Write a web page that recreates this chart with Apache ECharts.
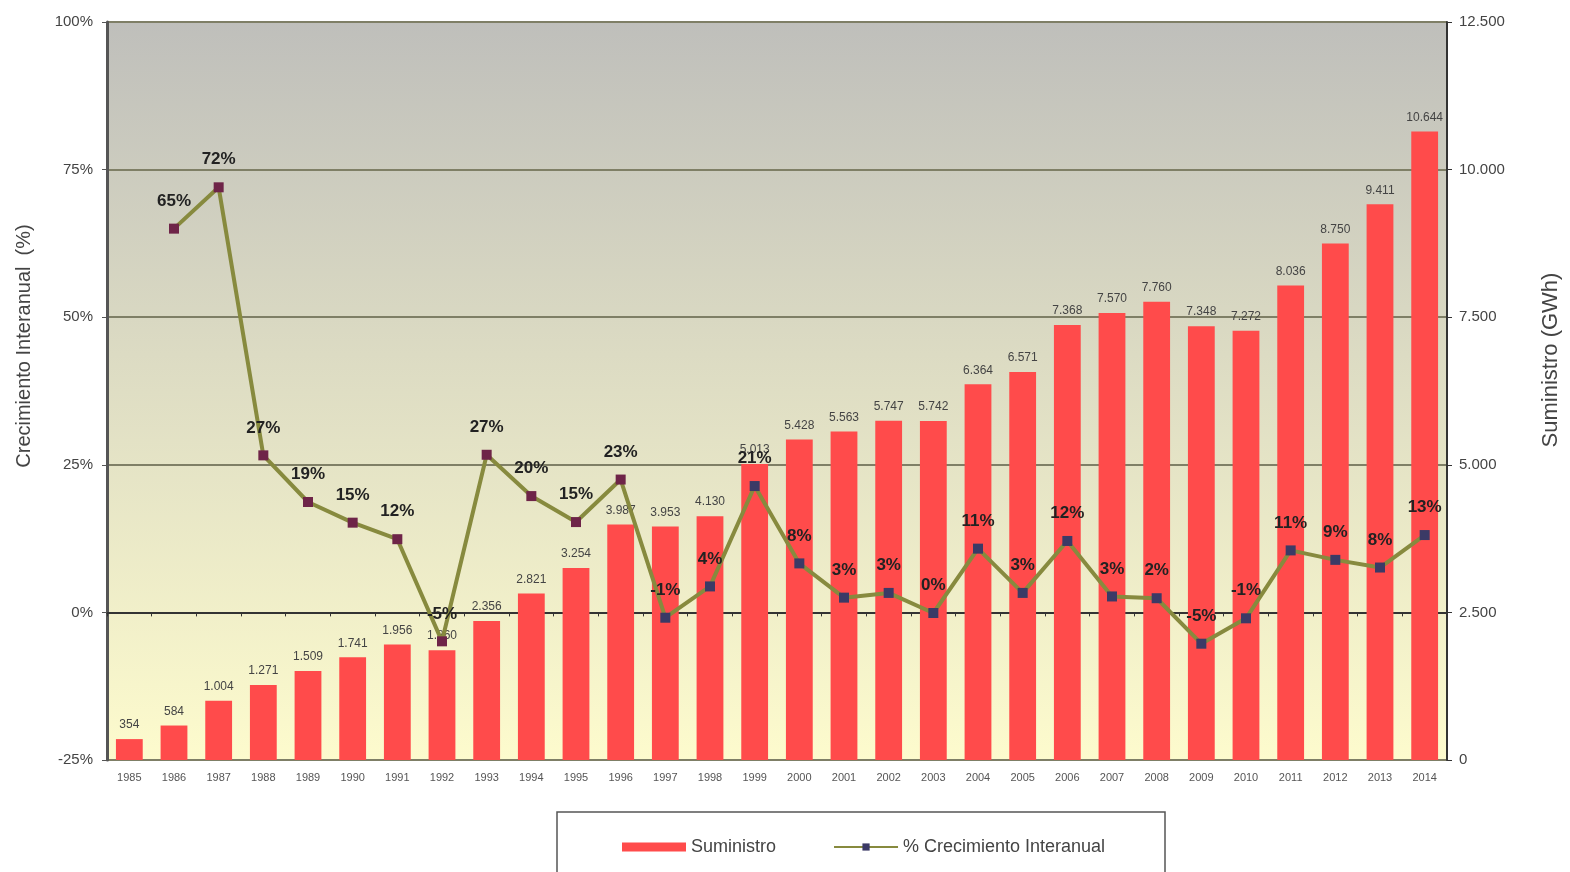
<!DOCTYPE html>
<html>
<head>
<meta charset="utf-8">
<script src="https://cdn.jsdelivr.net/npm/echarts@6/dist/echarts.min.js"></script>
<style>html,body{margin:0;padding:0;background:#fff}#c{width:1570px;height:872px}</style>
</head>
<body>
<div id="c"></div>
<script>
var years = ['1985','1986','1987','1988','1989','1990','1991','1992','1993','1994','1995','1996','1997','1998','1999','2000','2001','2002','2003','2004','2005','2006','2007','2008','2009','2010','2011','2012','2013','2014'];
var suministro = [354,584,1004,1271,1509,1741,1956,1860,2356,2821,3254,3987,3953,4130,5013,5428,5563,5747,5742,6364,6571,7368,7570,7760,7348,7272,8036,8750,9411,10644];
var crecimiento = [null,65,72,26.6,18.7,15.2,12.4,-4.9,26.7,19.7,15.3,22.5,-0.9,4.4,21.4,8.3,2.5,3.3,-0.1,10.8,3.3,12.1,2.7,2.4,-5.3,-1.0,10.5,8.9,7.6,13.1];
var leftTicks = [-25,0,25,50,75,100];
var rightTicks = [0,2500,5000,7500,10000,12500];

function fmtThousands(v){
  var s = String(Math.round(v));
  return s.replace(/\B(?=(\d{3})+(?!\d))/g, '.');
}
var maroonUntil = 1996;
var lineData = crecimiento.map(function(v,i){
  return {value: v, itemStyle: {color: (+years[i] <= maroonUntil) ? '#6e2448' : '#3b3a66'}};
});

var chart = echarts.init(document.getElementById('c'));
var font = 'Liberation Sans, Arial, sans-serif';
chart.setOption({
  animation: false,
  backgroundColor: '#ffffff',
  grid: {left: 107, right: 123, top: 22, bottom: 112,
    show: true, borderWidth: 0,
    backgroundColor: new echarts.graphic.LinearGradient(0,0,0,1,[
      {offset:0, color:'#bfbfbb'},
      {offset:0.45, color:'#dcdbc3'},
      {offset:1, color:'#fdfbcd'}
    ])},
  legend: {
    top: 833, left: 617, itemGap: 57,
    itemWidth: 64, itemHeight: 9,
    textStyle: {fontFamily: font, fontSize: 18, color: '#444'},
    data: [
      {name: 'Suministro', icon: 'rect'},
      {name: '% Crecimiento Interanual'}
    ]
  },
  graphic: [
    {type:'rect', shape:{x:557, y:812, width:608, height:80}, style:{fill:'none', stroke:'#555', lineWidth:1.5}, z: -1},
    {type:'text', x:24, y:346, rotation: Math.PI/2,
      style:{text:'Crecimiento Interanual  (%)', font:'20px Liberation Sans, Arial, sans-serif', fill:'#444', textAlign:'center', textVerticalAlign:'middle'}},
    {type:'text', x:1551, y:360, rotation: Math.PI/2,
      style:{text:'Suministro (GWh)', font:'22px Liberation Sans, Arial, sans-serif', fill:'#444', textAlign:'center', textVerticalAlign:'middle'}}
  ],
  xAxis: {
    type: 'category', data: years, boundaryGap: true,
    axisLine: {lineStyle: {color: '#333', width: 2}},
    axisTick: {show: true, length: 4, lineStyle: {color: '#333'}},
    axisLabel: {fontFamily: font, fontSize: 11, color: '#555', margin: 12, interval: 0}
  },
  yAxis: [
    {type: 'value', min: leftTicks[0], max: leftTicks[leftTicks.length-1], interval: 25, position: 'left',
      axisLine: {show: true, lineStyle: {color: '#555', width: 3}},
      axisTick: {show: true, length: 5, lineStyle: {color: '#555'}},
      axisLabel: {formatter: '{value}%', fontFamily: font, fontSize: 15, color: '#444', margin: 14},
      splitLine: {show: true, lineStyle: {color: '#7f7f66', width: 2}}
    },
    {type: 'value', min: rightTicks[0], max: rightTicks[rightTicks.length-1], interval: 2500, position: 'right',
      axisLine: {show: true, lineStyle: {color: '#333', width: 2}},
      axisTick: {show: true, length: 5, lineStyle: {color: '#333'}},
      axisLabel: {formatter: function(v){return fmtThousands(v);}, fontFamily: font, fontSize: 15, color: '#444', margin: 12},
      splitLine: {show: false}
    }
  ],
  series: [
    {name: 'Suministro', type: 'bar', yAxisIndex: 1, data: suministro,
      barWidth: '60%', itemStyle: {color: '#ff4b4b'},
      label: {show: true, position: 'top', distance: 8, fontFamily: font, fontSize: 12, color: '#444',
        formatter: function(p){return fmtThousands(p.value);}},
      z: 2
    },
    {name: '% Crecimiento Interanual', type: 'line', yAxisIndex: 0, data: lineData,
      symbol: 'rect', symbolSize: 10, connectNulls: false,
      lineStyle: {color: '#878a3e', width: 4},
      itemStyle: {color: '#3b3a66'},
      label: {show: true, position: 'top', distance: 14, fontFamily: font, fontSize: 17, fontWeight: 'bold', color: '#222',
        formatter: function(p){ var r = Math.round(p.value); if (r === 0) r = 0; return r + '%'; }},
      z: 5
    }
  ]
});
</script>
</body>
</html>
